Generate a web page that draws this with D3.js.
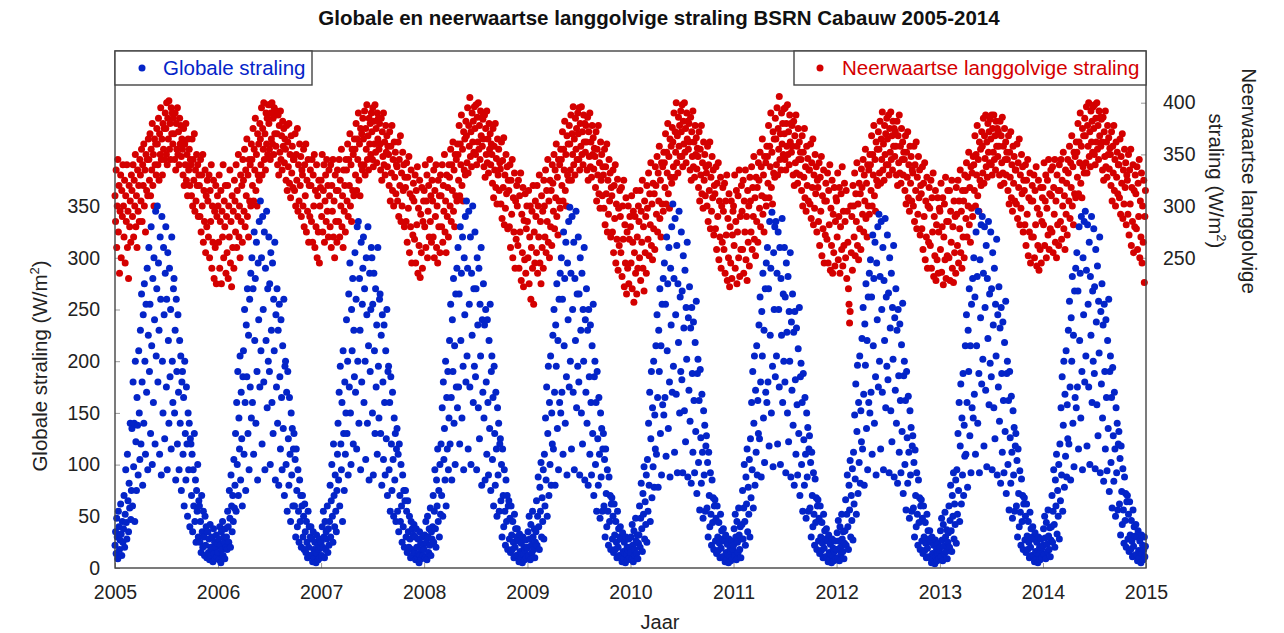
<!DOCTYPE html>
<html>
<head>
<meta charset="utf-8">
<script src="https://cdn.jsdelivr.net/npm/d3@7"></script>
<style>
body { margin: 0; background: #fff; }
text { font-family: "Liberation Sans", Arial, sans-serif; }
.axis .domain { display: none; }
.axis line { stroke: #999; }
.axis text { fill: #222; font-size: 19.5px; font-family: "Liberation Sans", Arial, sans-serif; }
</style>
</head>
<body>
<div id="chart"></div>
<script>
// jaren en tick labels
var years = [2005, 2006, 2007, 2008, 2009, 2010, 2011, 2012, 2013, 2014];
var xTickYears = [2005, 2006, 2007, 2008, 2009, 2010, 2011, 2012, 2013, 2014, 2015];
var leftTicks = [0, 50, 100, 150, 200, 250, 300, 350];
var rightTicks = [250, 300, 350, 400];

var glob2005 = [22,35,14,48,30,9,55,40,18,27,62,33,12,45,25,
38,70,20,52,95,44,28,110,65,35,82,58,140,47,75,
135,60,180,98,140,45,200,122,75,165,138,90,210,150,105,
230,120,265,180,80,245,140,275,200,110,255,170,290,95,225,
310,190,255,130,330,215,100,280,160,300,240,120,345,205,270,
350,180,295,230,110,320,260,90,340,200,150,310,245,125,285,
330,175,260,95,305,220,140,290,185,250,115,320,200,160,270,
280,150,230,85,260,190,120,245,170,95,220,140,205,75,180,
190,110,165,60,200,130,85,175,120,50,150,95,140,40,125,
120,70,110,35,95,60,130,45,85,25,75,55,100,30,65,
60,25,45,15,70,35,20,55,30,12,50,22,40,10,35,
35,15,28,8,42,20,12,30,18,6,38,14,25,9,20,32,11,24];
var glob2006 = [15,28,8,40,22,5,35,18,45,12,30,25,9,38,20,
30,18,55,40,25,75,48,20,90,60,35,70,45,105,58,
80,130,55,160,100,190,70,145,115,205,85,170,125,60,185,
210,110,250,160,75,235,185,270,130,225,95,260,175,285,145,
300,160,270,110,325,220,280,140,315,190,85,295,240,335,175,
355,210,300,120,340,250,180,325,95,290,220,345,155,270,200,
320,190,275,100,305,230,160,295,130,260,210,315,85,245,175,
270,140,230,80,255,185,115,240,165,95,215,135,260,70,195,
200,100,170,55,190,125,80,165,110,45,150,90,135,60,115,
130,60,105,30,115,75,40,95,55,25,85,45,70,20,60,
70,30,50,18,62,35,15,45,25,10,55,20,40,12,30,
40,12,28,6,35,18,10,25,15,5,32,14,22,8,18,28,10,20];
var glob2007 = [25,12,40,20,55,30,10,45,18,35,28,60,15,38,22,
45,80,30,65,100,50,25,120,70,40,90,55,35,75,110,
140,85,170,60,195,120,95,160,45,210,130,75,180,110,150,
240,130,200,90,265,175,295,150,100,250,210,280,120,230,185,
305,170,260,115,330,200,335,140,280,230,95,315,180,255,290,
320,160,270,200,105,300,245,140,330,215,85,285,190,250,310,
300,150,255,90,285,210,130,270,175,235,110,310,195,145,260,
265,130,225,80,245,180,105,235,160,90,210,125,250,70,190,
195,95,160,55,185,120,75,170,105,50,145,85,130,45,115,
135,55,110,35,120,70,45,100,60,25,90,40,75,20,65,
75,30,55,15,65,35,20,50,28,10,45,18,38,12,32,
42,15,30,8,38,20,10,28,14,5,35,12,24,9,18,30,12,22];
var glob2008 = [18,32,10,45,25,8,50,30,15,38,22,58,12,35,28,
40,70,25,55,95,38,20,85,60,115,45,75,30,100,52,
120,70,155,50,180,105,135,85,200,60,165,115,190,95,145,
220,120,255,165,85,240,190,280,140,215,100,265,175,290,155,
310,175,265,120,330,220,285,145,320,195,95,300,245,340,180,
355,205,290,115,345,255,175,320,100,285,225,350,160,270,195,
325,185,270,95,300,235,155,290,125,255,205,310,80,240,170,
275,145,235,85,250,180,110,240,160,90,220,135,255,75,190,
205,105,165,60,195,130,80,170,115,50,155,90,140,55,120,
125,65,100,30,115,70,40,95,55,22,85,45,70,18,60,
65,28,48,15,60,32,18,45,25,10,52,20,38,12,30,
38,12,26,6,33,16,9,24,14,5,30,13,20,8,17,27,10,19];
var glob2009 = [20,35,12,50,28,8,42,22,15,55,30,18,38,10,25,
35,65,22,50,88,40,18,78,55,102,30,68,45,95,28,
110,60,145,85,175,50,130,195,70,160,100,205,80,150,120,
225,115,250,170,80,235,195,275,135,220,95,260,160,285,150,
300,170,260,110,325,215,280,140,315,185,90,295,240,335,175,
349,200,285,115,340,250,170,315,95,280,220,345,155,265,195,
320,180,265,90,300,230,150,285,120,250,200,310,85,240,170,
270,140,230,80,250,185,110,235,160,90,215,130,255,70,185,
200,100,160,55,190,125,80,165,110,48,150,88,135,55,115,
130,60,105,30,115,72,40,95,55,22,88,45,70,18,62,
68,28,50,15,62,32,18,45,25,10,55,20,38,12,30,
40,12,28,6,34,16,9,25,14,5,30,13,20,8,17,28,10,20];
var glob2010 = [15,30,8,42,22,6,36,18,12,48,26,14,32,9,24,
32,60,20,48,82,38,16,72,52,98,28,64,42,90,25,
105,55,140,80,170,45,125,190,68,155,98,200,78,148,115,
215,110,245,165,78,230,190,270,130,215,90,255,158,280,148,
295,165,255,108,320,210,275,135,310,180,88,290,235,330,170,
352,195,280,112,338,245,168,312,92,275,218,345,150,262,190,
325,182,268,92,302,232,152,288,122,252,202,315,88,242,172,
272,142,232,82,252,188,112,238,162,92,218,132,258,72,188,
202,102,162,56,192,126,82,168,112,48,152,90,138,55,118,
128,58,102,30,112,70,40,92,52,22,85,44,68,18,60,
66,26,48,14,60,30,17,44,24,10,52,19,36,11,28,
38,11,26,6,32,15,8,23,13,5,28,12,19,7,16,26,9,18];
var glob2011 = [22,38,12,52,30,8,45,25,15,58,32,18,40,10,28,
42,75,28,58,100,45,22,88,62,115,35,78,52,105,30,
125,68,160,95,190,58,140,205,80,172,112,215,90,162,130,
235,125,262,180,88,248,205,285,145,230,102,270,170,295,160,
310,180,270,118,335,225,290,150,344,195,98,305,250,330,185,
335,205,285,120,325,250,175,310,100,280,225,338,160,265,200,
310,180,262,92,295,228,150,282,122,248,200,305,88,238,172,
265,138,228,80,248,182,110,232,158,90,212,130,252,70,185,
198,100,160,55,188,124,80,165,110,48,150,88,136,55,115,
128,58,102,30,112,70,40,92,52,22,86,44,68,18,60,
66,26,48,14,60,30,17,44,24,10,52,19,36,11,28,
38,11,26,6,32,15,8,23,13,5,28,12,19,7,16,26,9,18];
var glob2012 = [18,34,10,46,26,7,40,20,14,52,28,16,35,9,24,
36,66,22,52,90,40,18,80,56,104,30,70,46,96,27,
112,62,148,86,178,52,132,196,72,160,102,205,82,152,122,
222,115,252,168,80,236,196,275,135,220,95,262,160,285,150,
298,170,262,110,322,215,280,140,315,185,90,295,240,330,175,
342,200,282,115,335,250,170,310,95,278,220,338,155,262,195,
322,182,266,92,300,232,152,285,122,252,202,312,88,242,172,
270,140,230,82,250,186,112,236,162,92,216,132,256,72,186,
200,100,162,56,190,126,82,166,112,48,152,90,136,55,118,
128,58,102,30,114,70,40,92,52,22,85,44,68,18,60,
66,26,48,14,60,30,17,44,24,10,52,19,36,11,28,
36,10,25,5,30,14,8,22,12,4,27,11,18,7,15,24,9,17];
var glob2013 = [20,36,11,48,27,7,42,21,14,54,30,16,37,9,25,
34,60,20,46,80,36,16,70,50,92,28,62,42,85,24,
95,52,130,75,160,45,118,178,62,145,90,188,70,138,108,
215,110,245,160,78,230,190,270,128,215,92,255,155,280,145,
300,168,262,110,325,215,282,140,345,188,92,298,242,332,178,
340,202,285,118,330,252,172,312,98,280,222,335,158,265,198,
325,185,270,95,305,235,155,290,125,255,205,318,90,245,175,
272,142,232,82,252,188,112,238,162,92,218,132,258,72,188,
200,100,162,56,190,126,82,166,112,48,152,90,136,55,118,
130,60,104,30,115,72,40,94,54,22,86,45,70,18,62,
68,27,50,15,62,31,18,45,25,10,54,20,38,12,30,
40,12,28,6,34,16,9,25,14,5,30,13,20,8,17,28,10,20];
var glob2014 = [22,38,13,50,29,9,44,23,16,56,31,18,39,11,27,
40,70,25,55,95,42,20,85,60,110,33,75,50,100,28,
120,65,155,90,185,55,138,200,78,168,108,210,88,158,125,
230,120,258,175,85,242,200,282,140,225,98,268,165,290,155,
305,175,268,115,330,220,285,145,340,190,95,300,245,335,180,
345,205,288,118,332,255,175,315,100,282,225,340,160,268,200,
328,188,272,96,308,238,158,292,128,258,208,320,92,248,178,
275,145,235,84,255,190,115,240,165,94,220,135,260,74,190,
205,102,165,58,194,128,84,170,115,50,155,92,140,56,120,
132,62,106,32,118,74,42,96,56,24,88,46,72,20,64,
70,28,52,16,64,32,18,46,26,11,56,21,40,12,31,
42,13,30,7,36,17,10,26,15,5,32,14,22,8,18,30,11,21];

// neerwaartse langgolvige straling (W/m2)
var lw2005 = [310,285,335,260,300,345,275,320,235,295,330,250,315,290,340,
300,270,325,245,310,285,340,260,295,230,320,280,305,265,330,
315,290,340,270,325,300,350,280,310,260,335,295,320,285,345,
330,305,355,285,340,320,360,300,335,275,350,315,345,310,365,
345,325,370,310,355,335,380,320,350,300,365,340,360,330,375,
360,340,385,325,370,350,395,345,365,330,380,355,375,345,390,
375,350,400,340,385,365,402,355,380,345,395,370,390,360,385,
370,345,390,335,380,355,395,350,372,340,385,360,378,348,365,
355,330,375,320,360,340,380,325,350,310,365,335,355,320,345,
340,310,365,300,345,325,370,295,335,305,350,320,340,290,330,
320,290,345,275,330,300,350,265,315,285,335,255,310,280,325,
305,270,330,250,315,285,340,240,300,265,325,230,295,260,320,225,290,310];
var lw2006 = [300,265,330,240,285,315,225,295,270,340,250,305,280,320,235,
290,255,320,230,300,270,335,245,285,222,310,260,295,240,325,
305,275,340,260,315,290,350,270,300,250,330,285,320,265,345,
325,295,355,280,335,310,365,290,330,270,345,305,340,300,360,
345,320,375,305,355,335,385,315,350,300,370,330,360,325,380,
365,340,395,330,375,355,400,345,370,335,390,360,385,350,398,
380,355,398,345,390,365,400,360,385,350,395,370,388,358,392,
370,340,388,330,378,352,392,345,368,335,382,358,375,342,365,
355,325,378,315,362,338,380,322,350,308,368,332,358,318,345,
345,315,370,300,350,325,375,295,340,305,360,320,348,290,335,
330,300,355,280,340,310,360,275,325,295,345,265,320,290,335,
320,285,345,265,330,300,350,260,315,280,340,250,310,275,325,245,300,318];
var lw2007 = [325,290,350,275,315,340,265,305,330,285,345,295,320,270,335,
310,280,340,260,320,295,345,270,305,250,330,285,315,265,335,
315,285,345,270,325,300,355,280,310,260,335,295,320,275,345,
335,305,360,290,345,320,370,300,340,285,355,315,350,310,365,
355,330,380,315,365,345,390,325,360,310,375,340,370,335,385,
365,340,392,330,375,355,398,345,368,335,385,360,380,350,390,
372,345,395,338,382,360,398,352,375,342,390,365,385,355,380,
360,335,385,325,372,348,390,340,362,330,378,352,368,338,358,
350,320,372,305,358,332,378,315,345,300,362,328,352,312,340,
338,305,362,290,345,320,368,285,332,300,352,315,340,280,328,
318,285,342,265,328,298,348,255,312,280,335,245,308,272,322,
305,268,330,245,315,282,338,235,298,262,325,231,292,255,318,240,285,305];
var lw2008 = [315,280,340,260,305,330,250,295,320,270,345,285,310,265,325,
305,270,335,250,315,290,340,260,300,245,325,280,310,255,330,
310,280,340,265,320,295,350,275,305,255,330,290,318,270,340,
328,300,355,285,340,315,362,295,335,280,350,310,345,305,360,
350,325,378,310,360,340,388,320,355,305,372,335,365,330,382,
368,342,395,332,378,358,405,348,372,338,390,362,382,352,396,
375,350,398,340,386,362,400,355,378,345,392,368,386,358,384,
365,338,388,328,375,350,392,342,365,332,380,355,370,340,360,
350,322,375,308,358,335,380,318,346,302,365,330,355,315,342,
336,302,362,288,344,318,366,282,330,298,350,312,338,278,325,
315,280,340,260,325,292,345,250,308,275,332,240,305,268,320,
300,262,325,240,310,275,332,228,292,255,318,222,286,248,312,235,278,300];
var lw2009 = [285,250,315,225,270,300,210,260,295,240,320,205,275,245,305,
290,255,320,235,300,270,330,245,285,225,310,260,295,240,325,
300,270,335,255,315,285,345,265,305,250,325,280,315,262,340,
322,295,350,278,335,308,360,290,328,272,345,305,340,298,355,
345,320,372,305,355,335,382,315,350,300,368,330,360,325,378,
360,335,388,325,370,350,396,340,365,330,385,355,375,345,390,
370,345,395,335,380,358,396,350,372,340,388,362,380,352,378,
362,335,386,325,372,348,390,338,362,328,378,350,366,336,356,
348,318,372,305,355,330,378,312,342,298,362,325,350,310,338,
330,298,355,282,338,312,360,275,325,292,345,305,332,270,318,
310,275,335,255,320,288,340,245,302,268,326,238,298,262,315,
290,255,318,232,300,268,325,222,282,245,308,215,275,240,300,225,268,290];
var lw2010 = [280,245,310,220,265,295,207,255,290,235,315,215,270,240,300,
285,250,315,228,295,265,325,240,280,218,305,255,290,235,320,
298,268,332,252,312,282,342,262,302,248,322,278,312,258,338,
320,292,348,275,332,305,358,288,325,270,342,302,338,295,352,
342,318,370,302,352,332,380,312,348,298,365,328,358,322,376,
362,338,390,328,372,352,400,342,368,332,386,358,378,348,392,
372,348,398,338,382,360,400,352,375,342,390,365,382,355,380,
362,335,386,325,372,348,392,338,362,328,378,350,366,336,356,
348,318,372,305,355,330,378,312,342,298,362,325,350,310,338,
332,300,358,285,340,315,362,278,328,295,348,308,335,272,320,
312,278,338,258,322,290,342,248,305,270,328,240,300,265,318,
295,258,322,235,305,272,330,228,288,250,312,222,280,245,305,230,272,295];
var lw2011 = [300,262,330,240,285,315,225,275,310,250,335,232,290,258,320,
295,258,325,235,305,275,335,248,290,228,315,265,300,242,328,
305,275,338,258,318,290,348,268,308,252,328,285,318,265,342,
325,298,352,280,338,310,365,292,330,275,348,308,342,300,358,
348,322,378,308,358,338,390,318,352,302,372,332,365,328,385,
365,340,395,330,375,355,406,345,370,335,390,360,380,350,394,
370,345,395,335,380,358,398,350,372,340,388,362,380,352,378,
358,330,382,320,368,342,388,332,358,322,375,345,362,330,352,
345,315,368,300,352,328,375,308,338,295,358,320,346,305,335,
335,302,360,288,342,318,365,282,330,298,350,312,338,275,325,
318,285,342,262,328,295,348,252,310,278,335,245,305,272,322,
305,268,332,245,315,282,340,238,298,262,325,235,292,255,318,242,285,308];
var lw2012 = [305,270,332,248,290,318,235,280,312,258,338,242,295,262,322,
285,250,315,230,295,265,220,205,187,198,300,255,290,238,320,
300,270,332,252,312,285,342,262,302,248,322,278,312,258,336,
318,292,345,275,330,305,355,288,322,270,340,300,335,292,350,
340,315,368,300,350,330,378,310,345,295,362,325,355,320,372,
355,332,382,322,365,345,391,335,360,325,378,350,370,340,385,
365,340,388,330,375,352,391,345,368,335,382,358,375,348,372,
358,330,382,320,368,342,388,332,358,322,375,345,362,330,352,
345,315,368,302,352,328,372,308,340,295,358,322,348,305,335,
332,300,358,285,340,315,362,278,328,292,348,308,335,272,320,
312,278,338,258,322,290,342,248,305,270,328,240,300,265,318,
298,262,325,240,308,275,332,232,290,252,315,228,282,248,308,235,275,298];
var lw2013 = [295,258,322,236,280,308,224,270,302,248,328,230,285,252,315,
285,250,315,228,295,265,325,240,280,226,305,255,290,235,318,
292,262,325,245,305,278,335,255,295,240,315,270,305,250,330,
315,288,342,270,328,300,352,282,318,265,338,298,332,290,348,
340,315,368,300,350,330,378,310,345,295,362,325,355,320,372,
358,332,385,322,368,346,388,338,362,328,380,352,372,342,384,
365,340,388,330,375,352,388,345,368,335,382,358,375,348,372,
358,330,382,320,368,342,386,332,358,322,375,345,362,330,352,
345,315,368,302,352,328,372,308,340,295,358,322,348,305,335,
335,302,360,288,342,318,365,282,330,298,350,312,338,275,325,
315,282,340,262,325,292,345,252,308,275,332,245,305,270,320,
305,270,330,250,315,282,338,242,298,262,325,238,292,258,318,245,285,308];
var lw2014 = [318,282,342,262,305,330,250,298,325,272,345,258,312,278,335,
310,275,338,255,318,292,345,265,305,250,330,282,315,262,340,
315,285,345,268,325,300,352,278,310,258,335,292,322,272,345,
332,305,358,288,342,318,368,300,338,282,352,312,348,308,362,
352,328,380,312,362,342,390,322,358,308,375,338,368,332,385,
368,342,396,332,378,358,400,348,372,338,392,362,382,352,396,
375,350,398,340,385,362,400,355,378,345,392,368,386,358,384,
362,335,386,325,372,348,392,338,362,328,378,350,366,336,356,
350,320,372,305,358,332,378,315,345,300,362,328,352,312,340,
340,308,365,292,348,322,370,288,335,302,355,318,342,282,330,
325,292,350,272,335,302,355,262,318,285,340,255,315,280,330,
312,278,338,258,322,290,345,250,305,270,332,245,300,265,325,226,290,315];

var globale = [glob2005, glob2006, glob2007, glob2008, glob2009, glob2010, glob2011, glob2012, glob2013, glob2014];
var langgolvig = [lw2005, lw2006, lw2007, lw2008, lw2009, lw2010, lw2011, lw2012, lw2013, lw2014];

var blue = "#0424c8";
var red = "#d40000";

function toPoints(series){
    var pts = [];
    series.forEach(function(vals, k){
        var start = new Date(years[k], 0, 1);
        var days = d3.timeDay.count(start, new Date(years[k] + 1, 0, 1));
        vals.forEach(function(v, i){
            pts.push({"time": d3.timeDay.offset(start, Math.round(i * days / vals.length)), "value": v});
        });
    });
    return pts;
}

var width = 1284, height = 633;
var plotLeft = 115, plotRight = 1146, plotTop = 51, plotBottom = 568;

var svg = d3.select("#chart").append("svg").attr("width", width).attr("height", height);

var xScale = d3.scaleTime()
    .domain([new Date(2005, 0, 1), new Date(2015, 0, 1)])
    .range([plotLeft, plotRight]);
var yLeft = d3.scaleLinear().domain([0, 500]).range([plotBottom, plotTop]);
var yRight = d3.scaleLinear().domain([-50, 450]).range([plotBottom, plotTop]);

// title
svg.append("text")
    .attr("x", 659).attr("y", 25)
    .attr("text-anchor", "middle")
    .attr("font-size", "20.5px").attr("font-weight", "bold").attr("fill", "#111")
    .text("Globale en neerwaartse langgolvige straling BSRN Cabauw 2005-2014");

// axes
svg.append("g")
    .attr("class", "axis")
    .attr("transform", "translate(0," + plotBottom + ")")
    .call(d3.axisBottom(xScale)
        .tickValues(xTickYears.map(function(y){ return new Date(y, 0, 1); }))
        .tickFormat(d3.timeFormat("%Y"))
        .tickSizeInner(-5).tickSizeOuter(0).tickPadding(17));

svg.append("g")
    .attr("class", "axis")
    .attr("transform", "translate(" + plotLeft + ",0)")
    .call(d3.axisLeft(yLeft).tickValues(leftTicks).tickSizeInner(-5).tickSizeOuter(0).tickPadding(15));

svg.append("g")
    .attr("class", "axis")
    .attr("transform", "translate(" + plotRight + ",0)")
    .call(d3.axisRight(yRight).tickValues(rightTicks).tickSizeInner(-5).tickSizeOuter(0).tickPadding(17));

// points: langgolvig first, globale on top
svg.append("g").selectAll(".lw")
    .data(toPoints(langgolvig))
    .enter().append("circle")
    .attr("class", "lw")
    .attr("cx", function(d){ return xScale(d.time); })
    .attr("cy", function(d){ return yRight(d.value); })
    .attr("r", 3.5)
    .attr("fill", red);

svg.append("g").selectAll(".gl")
    .data(toPoints(globale))
    .enter().append("circle")
    .attr("class", "gl")
    .attr("cx", function(d){ return xScale(d.time); })
    .attr("cy", function(d){ return yLeft(d.value); })
    .attr("r", 3.5)
    .attr("fill", blue);

// frame
svg.append("rect")
    .attr("x", plotLeft).attr("y", plotTop)
    .attr("width", plotRight - plotLeft).attr("height", plotBottom - plotTop)
    .attr("fill", "none").attr("stroke", "#444").attr("stroke-width", 1.4);

// legends
svg.append("rect").attr("x", plotLeft).attr("y", plotTop).attr("width", 197).attr("height", 34)
    .attr("fill", "#fff").attr("stroke", "#444").attr("stroke-width", 1.4);
svg.append("circle").attr("cx", 142).attr("cy", 68).attr("r", 3.5).attr("fill", blue);
svg.append("text").attr("x", 163).attr("y", 75).attr("font-size", "20.5px").attr("fill", blue).text("Globale straling");

svg.append("rect").attr("x", 794).attr("y", plotTop).attr("width", plotRight - 794).attr("height", 34)
    .attr("fill", "#fff").attr("stroke", "#444").attr("stroke-width", 1.4);
svg.append("circle").attr("cx", 820).attr("cy", 68).attr("r", 3.5).attr("fill", red);
svg.append("text").attr("x", 842).attr("y", 75).attr("font-size", "20.5px").attr("fill", red).text("Neerwaartse langgolvige straling");

// axis labels
svg.append("text")
    .attr("x", 660).attr("y", 629)
    .attr("text-anchor", "middle").attr("font-size", "20px").attr("fill", "#222")
    .text("Jaar");

var yl = svg.append("text")
    .attr("transform", "translate(47,366) rotate(-90)")
    .attr("text-anchor", "middle").attr("font-size", "20.5px").attr("fill", "#222");
yl.append("tspan").text("Globale straling (W/m");
yl.append("tspan").attr("dy", -8).attr("font-size", "13px").text("2");
yl.append("tspan").attr("dy", 8).text(")");

svg.append("text")
    .attr("transform", "translate(1242,181) rotate(90)")
    .attr("text-anchor", "middle").attr("font-size", "20.5px").attr("fill", "#222")
    .text("Neerwaartse langgolvige");

var yr = svg.append("text")
    .attr("transform", "translate(1209,181) rotate(90)")
    .attr("text-anchor", "middle").attr("font-size", "20.5px").attr("fill", "#222");
yr.append("tspan").text("straling (W/m");
yr.append("tspan").attr("dy", -8).attr("font-size", "13px").text("2");
yr.append("tspan").attr("dy", 8).text(")");
</script>
</body>
</html>
